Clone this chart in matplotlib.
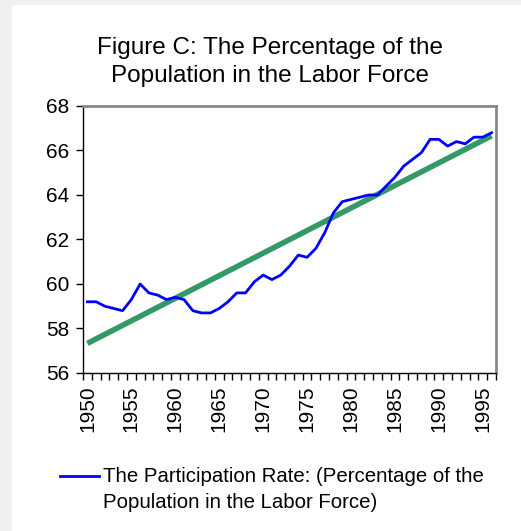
import numpy as np
import matplotlib
matplotlib.use("Agg")
import matplotlib.pyplot as plt
from matplotlib.lines import Line2D
from matplotlib.patches import Rectangle

plt.rcParams['font.family'] = ['Liberation Sans', 'DejaVu Sans']

years = list(range(1950, 1997))
rate = [59.2, 59.2, 59.0, 58.9, 58.8, 59.3, 60.0, 59.6, 59.5, 59.3,
        59.4, 59.3, 58.8, 58.7, 58.7, 58.9, 59.2, 59.6, 59.6, 60.1,
        60.4, 60.2, 60.4, 60.8, 61.3, 61.2, 61.6, 62.3, 63.2, 63.7,
        63.8, 63.9, 64.0, 64.0, 64.4, 64.8, 65.3, 65.6, 65.9, 66.5,
        66.5, 66.2, 66.4, 66.3, 66.6, 66.6, 66.8]
yticks = [56, 58, 60, 62, 64, 66, 68]
title = "Figure C: The Percentage of the\nPopulation in the Labor Force"
legend_label = "The Participation Rate: (Percentage of the\nPopulation in the Labor Force)"

x = np.arange(len(years))
coef = np.polyfit(x, rate, 1)
trend = np.polyval(coef, x)

fig = plt.figure(figsize=(5.21, 5.31), dpi=100)
fig.patch.set_facecolor('white')
fig.patches.append(Rectangle((0, 0), 12/521, 1, transform=fig.transFigure,
                             facecolor='#f0f0f0', edgecolor='none', zorder=0))
fig.patches.append(Rectangle((0, 1 - 5/531), 1, 5/531, transform=fig.transFigure,
                             facecolor='#f0f0f0', edgecolor='none', zorder=0))

ax = fig.add_axes([83/521, 1 - 373/531, (496 - 83)/521, (373 - 106)/531])
ax.plot(x, trend, color='#339966', lw=4.0, solid_capstyle='butt', zorder=2)
ax.plot(x, rate, color='#0000ff', lw=2.0, zorder=3)

ax.set_xlim(-0.5, len(years) - 0.5)
ax.set_ylim(56, 68)
ax.set_yticks(yticks)
ax.set_yticklabels([str(v) for v in yticks], fontsize=15)
ax.tick_params(axis='y', direction='out', length=5, width=1, pad=5)

label_idx = [i for i, y in enumerate(years) if y % 5 == 0]
ax.set_xticks(label_idx)
ax.set_xticklabels([str(years[i]) for i in label_idx], rotation=90, fontsize=15)
ax.set_xticks(np.arange(len(years) + 1) - 0.5, minor=True)
ax.tick_params(axis='x', which='major', length=0, pad=9)
ax.tick_params(axis='x', which='minor', direction='out', length=5, width=1)

for s in ['left', 'bottom']:
    ax.spines[s].set_color('black')
    ax.spines[s].set_linewidth(1)
for s in ['top', 'right']:
    ax.spines[s].set_color('#888888')
    ax.spines[s].set_linewidth(2)

fig.text(270/521, 1 - 62/531, title, ha='center', va='center', fontsize=17.5,
         linespacing=1.3)

ly = 1 - 476/531
fig.lines.append(Line2D([60/521, 99/521], [ly, ly], transform=fig.transFigure,
                        color='#0000ff', lw=2.0))
fig.text(103/521, 1 - 489.5/531, legend_label, ha='left', va='center', fontsize=14.7,
         linespacing=1.45)

fig.savefig('out.png', dpi=100)
